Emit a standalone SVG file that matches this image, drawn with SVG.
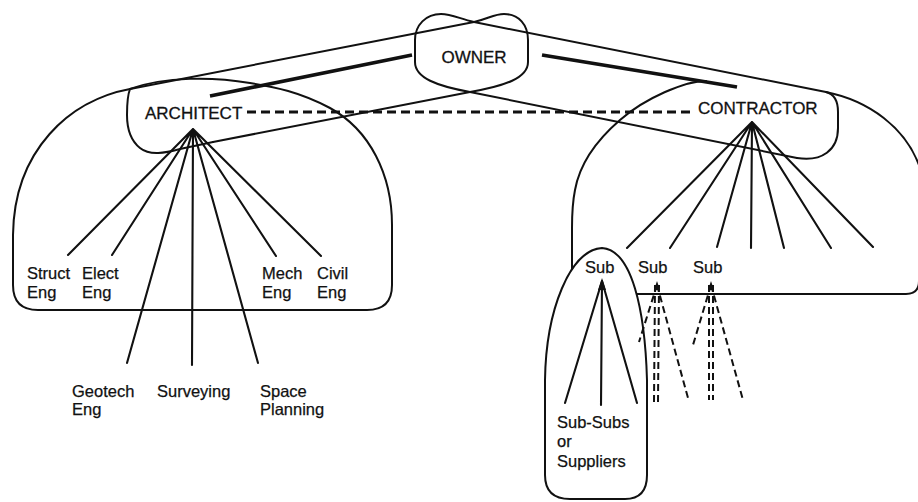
<svg xmlns="http://www.w3.org/2000/svg" width="918" height="502" viewBox="0 0 918 502">
<style>
.ln{fill:none;stroke:#111;stroke-width:2;stroke-linecap:round;stroke-linejoin:round}
.fan{fill:none;stroke:#111;stroke-width:2.1;stroke-linecap:round}
.thick{fill:none;stroke:#111;stroke-width:3.6}
.dash{fill:none;stroke:#111;stroke-width:3;stroke-dasharray:9 5}
.sdash{fill:none;stroke:#111;stroke-width:2;stroke-dasharray:7 4}
.big{font-family:"Liberation Sans",Arial,sans-serif;font-size:17px;fill:#111;stroke:#111;stroke-width:0.3}
.lbl{font-family:"Liberation Sans",Arial,sans-serif;font-size:16.5px;fill:#111;stroke:#111;stroke-width:0.25}
</style>
<rect width="918" height="502" fill="#fff"/>
<g id="architect-region">
<path class="ln" d="M130,89 C70,100 14,150 13,235 L13,285 Q13,310 38,310 L367,310 Q392,310 392,285 L392,225 C392,175 370,130 330,108 C300,92 275,87 250,83 C215,77 165,76 130,89 Z"/>
</g>
<g id="contractor-region">
<path class="ln" d="M706,81 C685,81 645,98 620,120 C598,139 580,162 575,190 C573,200 572,212 572,228 L572,281 Q572,294 585,294 L906,294 Q919,294 919,281 L919,165 C905,128 870,101 826,92"/>
</g>
<g id="sub-region">
<path class="ln" style="fill:#fff" d="M602,248 C570,250 546,310 545,380 L545,475 C545,492 555,499 570,499 L625,499 C640,499 647,490 647,475 L647,380 C645,310 632,250 602,248 Z"/>
</g>
<g id="owner">
<path class="ln" d="M474,22 C488,19 494,14 504,14 C519,14 528,25 528,40 L528,62 C528,78 505,86 470,92"/>
<path class="ln" d="M474,22 C460,19 452,14 441,14 C426,14 415,25 415,40 L415,62 C415,78 437,86 470,92"/>
<text class="big" x="474" y="63" text-anchor="middle">OWNER</text>
</g>
<g id="architect">
<path class="ln" d="M213,142 L180,149 C165,153 150,156 140,148 C130,140 127,128 127,115 C127,102 128,94 130,89"/>
<text class="big" x="145" y="119">ARCHITECT</text>
</g>
<g id="contractor">
<path class="ln" d="M826,92 C834,94 838,101 838,112 L838,128 C838,150 822,162 797,158"/>
<text class="big" x="698" y="114">CONTRACTOR</text>
</g>
<g id="connectors">
<path class="ln" d="M130,89 L474,22"/>
<path class="ln" d="M470,92 L213,142"/>
<path class="ln" d="M474,22 L826,92"/>
<path class="ln" d="M470,92 L797,158"/>
<path class="thick" d="M210,96 L412,55"/>
<path class="thick" d="M542,55 L737,87"/>
<path class="dash" d="M247,112 L695,112"/>
<g id="architect-fan">
<path class="fan" d="M193,129 L68,255 M193,129 L112,255 M193,129 L127,363 M193,129 L192,365 M193,129 L258,363 M193,129 L276,256 M193,129 L321,256"/>
</g>
<g id="contractor-fan">
<path class="fan" d="M752,122 L627,248 M752,122 L670,248 M752,122 L717,247 M752,122 L751,248 M752,122 L784,248 M752,122 L831,248 M752,122 L873,247"/>
</g>
<g id="sub1-fan">
<path class="fan" d="M602,281 L565,403 M602,281 L601,405 M602,281 L637,403"/>
<polygon points="602,278 598,290 606,290" fill="#111"/>
</g>
<g id="sub2-fan">
<path class="sdash" d="M657,285 L639,342 M655,285 L654,402 M659,285 L658,402 M657,285 L688,398"/>
<polygon points="657,281 654,290 660,290" fill="#111"/>
</g>
<g id="sub3-fan">
<path class="sdash" d="M711,285 L693,345 M709,285 L709,400 M713,285 L713,400 M711,285 L743,400"/>
<polygon points="711,281 708,290 714,290" fill="#111"/>
</g>
</g>
<g id="struct-eng"><text class="lbl" x="27" y="279">Struct</text><text class="lbl" x="27" y="298">Eng</text></g>
<g id="elect-eng"><text class="lbl" x="82" y="279">Elect</text><text class="lbl" x="82" y="298">Eng</text></g>
<g id="mech-eng"><text class="lbl" x="262" y="279">Mech</text><text class="lbl" x="262" y="298">Eng</text></g>
<g id="civil-eng"><text class="lbl" x="317" y="279">Civil</text><text class="lbl" x="317" y="298">Eng</text></g>
<g id="geotech-eng"><text class="lbl" x="72" y="397">Geotech</text><text class="lbl" x="72" y="415">Eng</text></g>
<g id="surveying"><text class="lbl" x="157" y="397">Surveying</text></g>
<g id="space-planning"><text class="lbl" x="260" y="397">Space</text><text class="lbl" x="260" y="415">Planning</text></g>
<g id="sub1"><text class="lbl" x="585" y="273">Sub</text></g>
<g id="sub2"><text class="lbl" x="638" y="273">Sub</text></g>
<g id="sub3"><text class="lbl" x="693" y="273">Sub</text></g>
<g id="sub-subs"><text class="lbl" x="557" y="428">Sub-Subs</text><text class="lbl" x="557" y="447">or</text><text class="lbl" x="557" y="467">Suppliers</text></g>
</svg>
